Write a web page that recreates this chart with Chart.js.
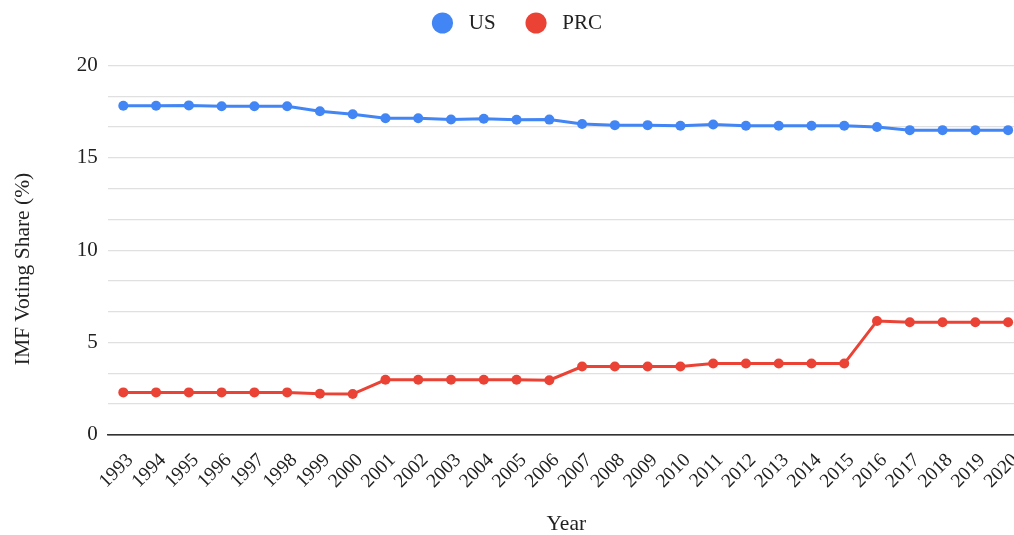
<!DOCTYPE html>
<html>
<head>
<meta charset="utf-8">
<script src="https://cdn.jsdelivr.net/npm/chart.js@4.4.0/dist/chart.umd.min.js"></script>
<style>
  html, body { margin: 0; padding: 0; background: #fff; }
  #wrap { width: 1014px; height: 535px; position: relative; }
</style>
</head>
<body>
<div id="wrap"><canvas id="imfChart"></canvas></div>
<script>
const years = [1993, 1994, 1995, 1996, 1997, 1998, 1999, 2000, 2001, 2002, 2003, 2004, 2005, 2006,
  2007, 2008, 2009, 2010, 2011, 2012, 2013, 2014, 2015, 2016, 2017, 2018, 2019, 2020];
const usShare = [17.82, 17.82, 17.84, 17.79, 17.79, 17.79, 17.52, 17.36, 17.14, 17.14, 17.08, 17.12, 17.06, 17.07,
  16.83, 16.77, 16.77, 16.74, 16.81, 16.74, 16.74, 16.74, 16.74, 16.67, 16.50, 16.50, 16.50, 16.50];
const prcShare = [2.30, 2.30, 2.30, 2.30, 2.30, 2.30, 2.23, 2.21, 2.98, 2.98, 2.98, 2.98, 2.98, 2.96,
  3.70, 3.70, 3.70, 3.70, 3.86, 3.86, 3.86, 3.86, 3.86, 6.17, 6.10, 6.10, 6.10, 6.10];
const yTicks = [0, 5, 10, 15, 20];

const serif = "'Liberation Serif', 'Times New Roman', serif";
const nbsp = "\u00A0";

function toPoints(values) {
  return years.map((yr, i) => ({ x: yr, y: values[i] }));
}

// legend sits higher than chart.js puts it
const legendNudge = {
  id: "legendNudge",
  afterLayout(chart) {
    const lg = chart.legend;
    lg.top -= 22; lg.bottom -= 22;
    lg.left += 5; lg.right += 5;
  }
};

// let the plot run to the right edge (the last rotated label needs no room there)
function noRightPadding(scale) {
  scale.paddingRight = 0;
  scale.getPadding = function () {
    return { left: this.paddingLeft || 0, top: this.paddingTop || 0, right: 0, bottom: this.paddingBottom || 0 };
  };
}

const ctx = document.getElementById("imfChart").getContext("2d");
new Chart(ctx, {
  type: "line",
  data: {
    datasets: [
      {
        label: "US",
        data: toPoints(usShare),
        borderColor: "#4285F4",
        backgroundColor: "#4285F4",
        borderWidth: 3,
        pointRadius: 5,
        pointBorderWidth: 0,
        pointHoverRadius: 6,
        tension: 0
      },
      {
        label: "PRC",
        data: toPoints(prcShare),
        borderColor: "#EA4335",
        backgroundColor: "#EA4335",
        borderWidth: 3,
        pointRadius: 5,
        pointBorderWidth: 0,
        pointHoverRadius: 6,
        tension: 0
      }
    ]
  },
  plugins: [legendNudge],
  options: {
    responsive: true,
    maintainAspectRatio: false,
    animation: false,
    layout: { autoPadding: false, padding: { top: 4.5, left: 10, right: 0, bottom: 0 } },
    plugins: {
      legend: {
        position: "top",
        labels: {
          usePointStyle: true,
          pointStyle: "circle",
          boxWidth: 21,
          boxHeight: 15,
          padding: 30,
          color: "#222",
          font: { family: serif, size: 21 },
          generateLabels: (chart) => {
            const items = Chart.defaults.plugins.legend.labels.generateLabels(chart);
            items.forEach(it => { it.text = nbsp + it.text; });
            return items;
          }
        }
      },
      tooltip: { enabled: false }
    },
    scales: {
      x: {
        type: "linear",
        min: 1992.527,
        max: 2020.18,
        afterFit: noRightPadding,
        grid: { display: false },
        border: { display: true, color: "#333", width: 1.5 },
        ticks: {
          stepSize: 1,
          includeBounds: false,
          autoSkip: false,
          maxRotation: 45,
          minRotation: 45,
          padding: 6,
          labelOffset: 7,
          color: "#222",
          font: { family: serif, size: 19.5 },
          callback: (v) => Number.isInteger(v) ? String(v) : ""
        },
        title: {
          display: true,
          text: nbsp + nbsp + "Year",
          color: "#222",
          font: { family: serif, size: 21.5, lineHeight: 1 },
          padding: { top: 14.5, bottom: 0 }
        }
      },
      y: {
        min: 0,
        max: 20,
        grid: {
          color: (c) => c.tick && c.tick.value === 0 ? "#333" : "#e0e0e0",
          lineWidth: 1.2,
          drawTicks: false
        },
        border: { display: false },
        ticks: {
          stepSize: 5 / 3,
          padding: 10,
          color: "#222",
          font: { family: serif, size: 21 },
          callback: (v) => {
            const hit = yTicks.find(t => Math.abs(t - v) < 1e-6);
            return hit === undefined ? "" : String(hit);
          }
        },
        title: {
          display: true,
          text: "IMF Voting Share (%)" + nbsp.repeat(7),
          color: "#222",
          font: { family: serif, size: 21.5 },
          padding: { top: 0, bottom: 31 }
        }
      }
    }
  }
});
</script>
</body>
</html>
